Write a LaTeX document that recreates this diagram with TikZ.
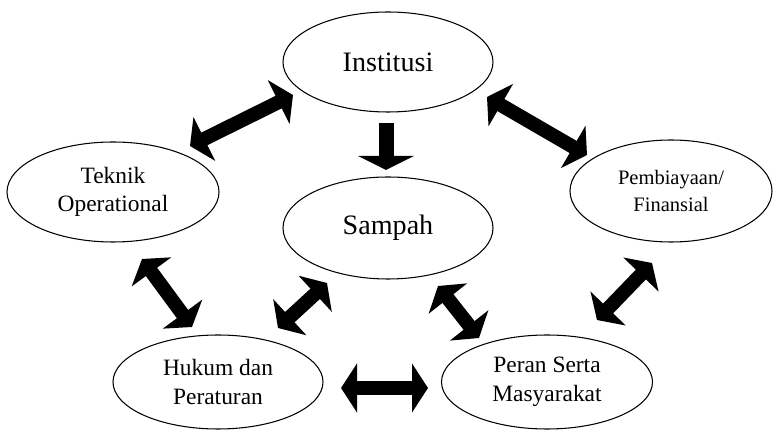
\documentclass[tikz,border=0pt]{standalone}
\usepackage{fontspec}
\setmainfont{Liberation Serif}
\usetikzlibrary{arrows.meta,shapes.geometric}
\begin{document}
\begin{tikzpicture}[x=0.03cm,y=-0.03cm,
  oval/.style={ellipse,draw,line width=0.9pt,inner sep=0pt,align=center,
    font=\fontsize{20}{24.3}\selectfont},
  bigtext/.style={font=\fontsize{24}{28}\selectfont},
  midtext/.style={font=\fontsize{17.5}{23}\selectfont},
  >={Triangle[width=1.45cm,length=0.48cm]},
  fat/.style={line width=0.42cm,<->},
  fatdown/.style={line width=0.45cm,-{Triangle[width=1.65cm,length=0.42cm]}}]
\useasboundingbox[fill=white] (0,0) rectangle (773,431);

\node[oval,bigtext,minimum width=6.3cm,minimum height=3.0cm] (inst) at (388,62) {Institusi};
\node[oval,minimum width=6.36cm,minimum height=3.0cm] (tek) at (113,192) {Teknik\\Operational};
\node[oval,bigtext,minimum width=6.3cm,minimum height=3.06cm] (samp) at (388,228) {Sampah};
\node[oval,midtext,minimum width=6.06cm,minimum height=3.06cm] (pemb) at (671,191) {Pembiayaan/\\Finansial};
\node[oval,minimum width=6.3cm,minimum height=2.82cm] (huk) at (218,382) {Hukum dan\\Peraturan};
\node[oval,minimum width=6.33cm,minimum height=2.82cm] (per) at (547,382) {Peran Serta\\Masyarakat};

% arrow end points, placed relative to the ovals
\path (inst) ++(-95,33) coordinate (a1);
\path (tek) ++(77,-46) coordinate (a2);
\path (inst) ++(-2,61) coordinate (b1);
\path (samp) ++(-2,-58) coordinate (b2);
\path (inst) ++(99,35) coordinate (c1);
\path (pemb) ++(-84,-36) coordinate (c2);
\path (tek) ++(29,67) coordinate (d1);
\path (huk) ++(-26,-55) coordinate (d2);
\path (samp) ++(-61,55) coordinate (e1);
\path (huk) ++(60,-54) coordinate (e2);
\path (samp) ++(50,58) coordinate (f1);
\path (per) ++(-68,-44) coordinate (f2);
\path (pemb) ++(-19,72) coordinate (g1);
\path (per) ++(50,-62) coordinate (g2);
\path (huk) ++(123,6) coordinate (h1);
\path (per) ++(-119,6) coordinate (h2);

\draw[fat] (a1) -- (a2);
\draw[fatdown] (b1) -- (b2);
\draw[fat] (c1) -- (c2);
\draw[fat] (d1) -- (d2);
\draw[fat] (e1) -- (e2);
\draw[fat] (f1) -- (f2);
\draw[fat] (g1) -- (g2);
\draw[fat] (h1) -- (h2);
\end{tikzpicture}
\end{document}
